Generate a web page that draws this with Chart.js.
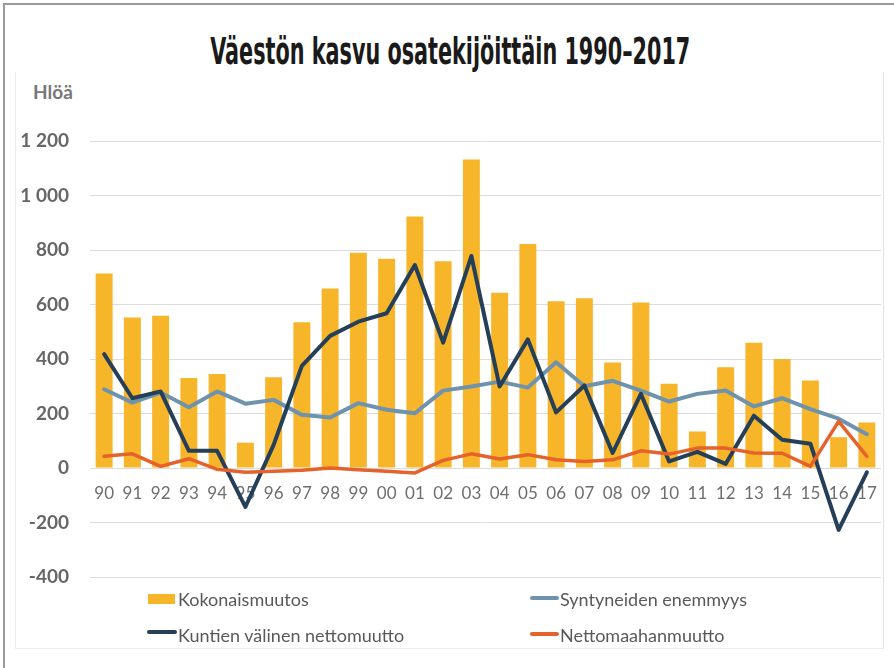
<!DOCTYPE html>
<html>
<head>
<meta charset="utf-8">
<script src="https://cdn.jsdelivr.net/npm/chart.js@4.4.1/dist/chart.umd.min.js"></script>
<style>
  html, body { margin: 0; padding: 0; background: #ffffff; }
  body { width: 894px; height: 668px; position: relative; overflow: hidden; }
  #outer { position: absolute; left: 3px; top: 3px; width: 900px; height: 700px; border-top: 2px solid #9a9a9a; border-left: 2px solid #9a9a9a; }
  #inner { position: absolute; left: 15px; top: 72px; width: 867px; height: 576px; border-left: 1px solid #ededed; border-right: 1px solid #e2e2e2; border-bottom: 1px solid #ededed; }
  #chart { position: absolute; left: 0; top: 0; }
  #title { position: absolute; left: 3px; top: 32px; width: 894px; text-align: center; white-space: nowrap;
           font-family: "Liberation Sans Narrow", "DejaVu Sans Condensed", "Liberation Sans", sans-serif; font-weight: bold; font-size: 38px; line-height: 38px; color: #1a1a1a; }
  #title span { display: inline-block; transform-origin: 50% 50%; }
  #unit { position: absolute; left: 33px; top: 82px; font-family: Lato, sans-serif; font-weight: bold; font-size: 19px; line-height: 19px; color: #777777; }
  .lg { position: absolute; font-family: Lato, sans-serif; font-size: 18px; line-height: 18px; color: #595959; white-space: nowrap; }
  .sw { position: absolute; }
</style>
</head>
<body>
<div id="outer"></div>
<div id="inner"></div>
<div id="title"><span id="titleText">Väestön kasvu osatekijöittäin 1990–2017</span></div>
<div id="unit">Hlöä</div>
<canvas id="chart" width="894" height="668"></canvas>
<div id="legend"></div>
<script>
// ---- data ----
const categories = ['90','91','92','93','94','95','96','97','98','99','00','01','02','03','04','05','06','07','08','09','10','11','12','13','14','15','16','17'];
const seriesNames = ['Kokonaismuutos', 'Syntyneiden enemmyys', 'Kuntien välinen nettomuutto', 'Nettomaahanmuutto'];
const kokonaismuutos = [714, 552, 559, 330, 345, 93, 333, 535, 659, 790, 768, 923, 759, 1132, 643, 822, 612, 623, 387, 607, 309, 134, 370, 460, 400, 321, 113, 167];
const syntyneidenEnemmyys = [289, 240, 277, 223, 281, 236, 250, 195, 185, 238, 214, 201, 284, 299, 317, 295, 388, 300, 320, 284, 244, 272, 284, 226, 256, 216, 181, 124];
const kuntienNettomuutto = [418, 256, 281, 63, 63, -143, 85, 375, 485, 537, 568, 745, 460, 778, 299, 472, 204, 303, 55, 272, 24, 59, 15, 192, 104, 89, -227, -16];
const nettomaahanmuutto = [43, 52, 6, 34, -5, -16, -12, -8, 0, -6, -12, -18, 28, 52, 33, 49, 30, 24, 30, 63, 51, 73, 73, 55, 54, 6, 171, 43];
const yMin = -400, yMax = 1200, yStep = 200;
const titleText = 'Väestön kasvu osatekijöittäin 1990–2017';
const unitLabel = 'Hlöä';

// ---- styles ----
const colors = ['#f7b52a', '#6f93ad', '#253f58', '#e5622b'];

// title fit to reference width
const tt = document.getElementById('titleText');
tt.textContent = titleText;
const w = tt.getBoundingClientRect().width;
tt.style.transform = 'scaleX(' + (480 / w) + ')';
document.getElementById('unit').textContent = unitLabel;

// legend (HTML text)
const legendPos = [
  { sx: 148, sy: 594, sw: 27, sh: 10, tx: 178, ty: 590 },
  { sx: 530, sy: 596, sw: 29, sh: 3.5, tx: 560, ty: 590 },
  { sx: 147, sy: 630, sw: 30, sh: 4, tx: 178, ty: 626 },
  { sx: 530, sy: 632, sw: 29, sh: 3.5, tx: 560, ty: 626 }
];
const lg = document.getElementById('legend');
seriesNames.forEach((name, i) => {
  const p = legendPos[i];
  const s = document.createElement('div');
  s.className = 'sw';
  s.style.cssText = `left:${p.sx}px;top:${p.sy}px;width:${p.sw}px;height:${p.sh}px;background:${colors[i]};` + (i > 0 ? 'border-radius:2px;' : '');
  lg.appendChild(s);
  const t = document.createElement('div');
  t.className = 'lg';
  t.style.left = p.tx + 'px';
  t.style.top = p.ty + 'px';
  t.textContent = name;
  lg.appendChild(t);
});

const lineCommon = { type: 'line', pointRadius: 0, pointHoverRadius: 0, tension: 0, fill: false, borderJoinStyle: 'round', borderCapStyle: 'round' };

new Chart(document.getElementById('chart'), {
  data: {
    labels: categories,
    datasets: [
      { type: 'bar', label: seriesNames[0], data: kokonaismuutos, backgroundColor: colors[0], borderWidth: 0, categoryPercentage: 0.6, barPercentage: 1, order: 4 },
      Object.assign({}, lineCommon, { label: seriesNames[1], data: syntyneidenEnemmyys, borderColor: colors[1], borderWidth: 4, order: 3 }),
      Object.assign({}, lineCommon, { label: seriesNames[2], data: kuntienNettomuutto, borderColor: colors[2], borderWidth: 4, order: 2 }),
      Object.assign({}, lineCommon, { label: seriesNames[3], data: nettomaahanmuutto, borderColor: colors[3], borderWidth: 3.5, order: 1 })
    ]
  },
  options: {
    responsive: false,
    devicePixelRatio: 1,
    animation: false,
    events: [],
    layout: { padding: { left: 20, right: 13, top: 141, bottom: 91 } },
    plugins: { legend: { display: false }, title: { display: false }, tooltip: { enabled: false } },
    scales: {
      x: {
        type: 'category',
        position: { y: 0 },
        offset: true,
        grid: { display: false, drawTicks: false },
        border: { display: false },
        ticks: { autoSkip: false, maxRotation: 0, padding: 15, color: '#6e6e6e', font: { family: 'Lato', size: 17 } },
        afterFit: (s) => { s.height = 0; }
      },
      y: {
        min: yMin, max: yMax,
        grid: { color: '#dcdcdc', lineWidth: 1, drawTicks: false },
        border: { display: false },
        ticks: {
          stepSize: yStep, padding: 21, color: '#666666', font: { family: 'Lato', size: 19, weight: 'bold' },
          callback: (v) => String(v).replace(/\B(?=(\d{3})+(?!\d))/g, ' ')
        },
        afterFit: (s) => { s.width = 70; }
      }
    }
  }
});
</script>
</body>
</html>
